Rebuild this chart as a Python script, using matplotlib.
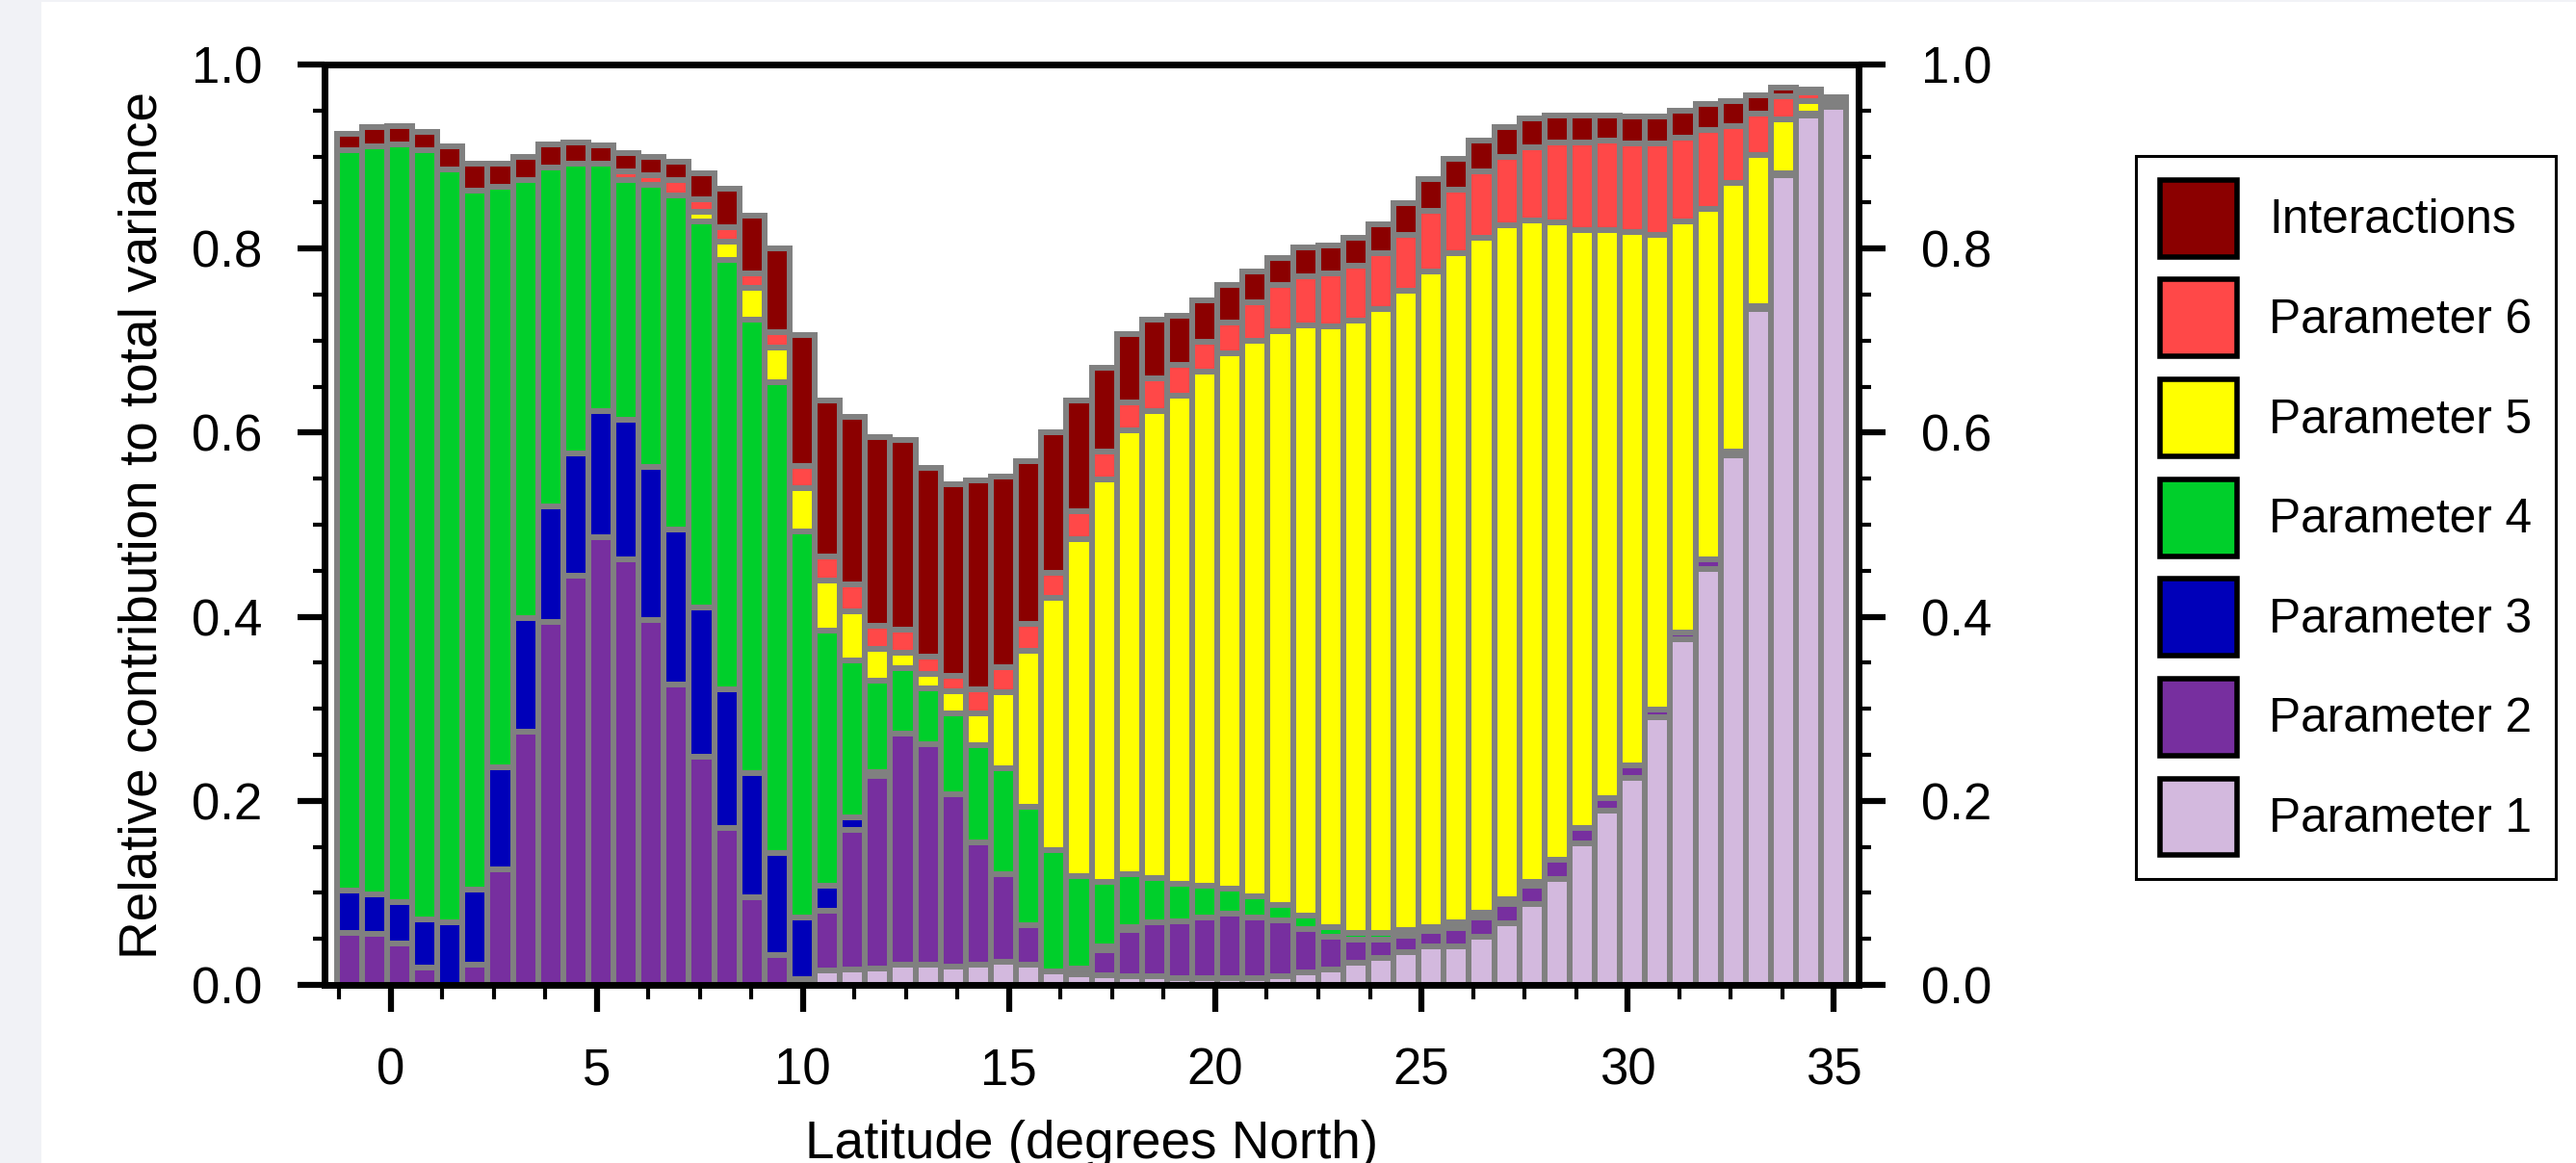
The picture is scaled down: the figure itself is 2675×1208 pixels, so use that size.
import numpy as np
import matplotlib
matplotlib.use("Agg")
import matplotlib.pyplot as plt
from matplotlib.patches import Patch, Rectangle
from matplotlib.ticker import MultipleLocator, FormatStrFormatter

plt.rcParams['font.family'] = ['Liberation Sans', 'DejaVu Sans']

# latitude of each bar (60 bars from -1 to 35 degrees North)
latitude = np.linspace(-1, 35, 60)

# relative contribution of each factor (bottom to top)
param1 = [0, 0, 0, 0, 0, 0, 0, 0, 0, 0,
          0, 0, 0, 0, 0, 0, 0, 0, .006, .016,
          .017, .018, .022, .022, .020, .022, .025, .022, .015, .012,
          .010, .009, .009, .007, .007, .007, .007, .009, .014, .017,
          .024, .029, .036, .042, .042, .052, .067, .088, .115, .154,
          .189, .225, .291, .376, .452, .575, .734, .880, .945, .954]
param2 = [.057, .055, .045, .019, 0, .022, .126, .275, .394, .445,
          .486, .462, .396, .326, .248, .170, .095, .032, 0, .065,
          .151, .209, .251, .240, .187, .133, .095, .043, 0, .006,
          .028, .051, .059, .062, .066, .070, .066, .061, .047, .035,
          .025, .020, .017, .017, .020, .021, .021, .020, .021, .017,
          .014, .014, .008, .007, .010, .004, .003, .002, .002, .001]
param3 = [.046, .043, .045, .052, .068, .082, .110, .124, .126, .132,
          .137, .152, .167, .169, .162, .151, .135, .111, .067, .027,
          .014, .004, 0, 0, 0, 0, 0, 0, 0, 0,
          .004, .003, 0, 0, 0, 0, 0, 0, 0, 0,
          0, 0, 0, 0, 0, 0, 0, 0, 0, 0,
          0, 0, 0, 0, 0, 0, 0, 0, 0, 0]
param4 = [.804, .813, .823, .836, .818, .759, .631, .475, .368, .315,
          .269, .260, .306, .363, .420, .467, .493, .512, .420, .277,
          .171, .100, .071, .060, .088, .105, .115, .129, .131, .100,
          .070, .057, .048, .041, .035, .028, .023, .017, .014, .011,
          .008, .008, .007, .004, .006, .005, .005, .004, 0, 0,
          0, 0, 0, 0, 0, 0, 0, 0, 0, 0]
param5 = [0, 0, 0, 0, 0, 0, 0, 0, 0, 0,
          0, 0, 0, 0, .010, .020, .034, .037, .047, .054,
          .053, .034, .017, .016, .024, .035, .083, .169, .274, .366,
          .437, .482, .507, .530, .558, .581, .604, .623, .642, .653,
          .665, .677, .694, .712, .727, .734, .732, .719, .692, .649,
          .617, .579, .516, .447, .381, .292, .165, .058, .013, .002]
param6 = [0, 0, 0, 0, 0, 0, 0, 0, 0, 0,
          0, .010, .011, .016, .014, .015, .016, .017, .024, .026,
          .029, .025, .025, .019, .017, .026, .027, .029, .028, .031,
          .030, .031, .036, .034, .033, .034, .042, .050, .053, .057,
          .059, .061, .061, .066, .069, .072, .075, .079, .087, .095,
          .097, .096, .099, .091, .086, .062, .045, .026, .010, .005]
interactions = [.018, .021, .020, .020, .025, .029, .025, .026, .025, .023,
                .020, .020, .020, .020, .028, .042, .063, .091, .142, .170,
                .182, .205, .206, .205, .208, .227, .207, .177, .152, .120,
                .092, .074, .064, .053, .045, .040, .033, .030, .031, .030,
                .031, .031, .034, .035, .033, .033, .032, .031, .030, .030,
                .028, .030, .030, .029, .028, .027, .020, .009, .003, .002]

series = [param1, param2, param3, param4, param5, param6, interactions]
names = ['Parameter 1', 'Parameter 2', 'Parameter 3', 'Parameter 4',
         'Parameter 5', 'Parameter 6', 'Interactions']
colors = ['#d3b9de', '#772f9f', '#0000b9', '#00cf2b', '#ffff00', '#ff4848', '#8b0000']

W, H = 2675, 1208
fig = plt.figure(figsize=(W / 100, H / 100), dpi=100)
fig.patch.set_facecolor('#f1f2f6')
fig.add_artist(Rectangle((43 / W, 0), 1, 1 - 2 / H, transform=fig.transFigure,
                         facecolor='white', edgecolor='none', zorder=-10))

ax = fig.add_axes([337 / W, 1 - 1023 / H, (1930 - 337) / W, (1023 - 67) / H])

width = latitude[1] - latitude[0]
bottom = np.zeros(len(latitude))
for vals, col in zip(series, colors):
    vals = np.array(vals)
    ax.bar(latitude, vals, width=width, bottom=bottom, color=col,
           edgecolor='#808080', linewidth=4.3)
    bottom += vals

ax.set_xlim(-1.6, 35.6)
ax.set_ylim(0, 1)
ax.set_xticks(range(0, 36, 5))
ax.xaxis.set_minor_locator(MultipleLocator(1.25))
ax.set_yticks(np.arange(0, 1.01, 0.2))
ax.yaxis.set_minor_locator(MultipleLocator(0.05))
ax.yaxis.set_major_formatter(FormatStrFormatter('%.1f'))

for s in ax.spines.values():
    s.set_linewidth(5)
ax.tick_params(which='both', direction='out', top=False, right=True,
               labelright=True, labelsize=38, pad=26.5)
ax.tick_params(which='major', length=20, width=4.5)
ax.tick_params(axis='y', which='minor', length=9, width=3)
ax.tick_params(axis='x', which='minor', length=11, width=3)

ax.set_xlabel('Latitude (degrees North)', fontsize=39.5)
ax.xaxis.set_label_coords(0.5, (1023 - 1163) / 956)
ax.set_ylabel('Relative contribution to total variance', fontsize=39.5)
ax.yaxis.set_label_coords((174 - 337) / 1593, 0.5)

handles = [Patch(facecolor=c, edgecolor='black', linewidth=4, label=n)
           for c, n in zip(colors[::-1], names[::-1])]
leg = ax.legend(handles=handles, loc='upper left',
                bbox_to_anchor=(2218 / W, 1 - 162 / H),
                bbox_transform=fig.transFigure, fontsize=35.7,
                handlelength=1.61, handleheight=2.1, labelspacing=0.48,
                handletextpad=0.68, borderpad=0.5, borderaxespad=0,
                fancybox=False, framealpha=1)
leg.get_frame().set_edgecolor('black')
leg.get_frame().set_linewidth(2.2)

fig.savefig('out.png', dpi=100, facecolor=fig.get_facecolor())
